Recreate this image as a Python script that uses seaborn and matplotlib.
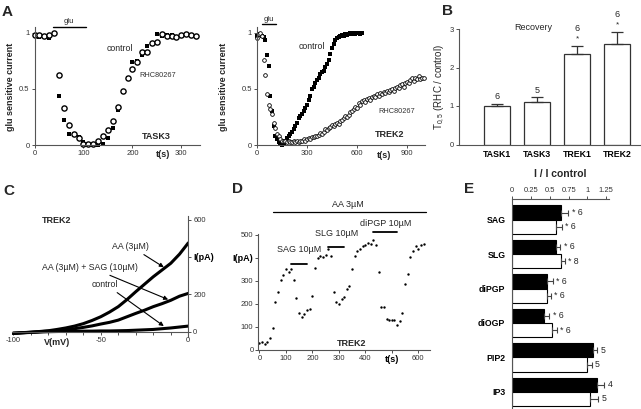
"""
Multi-panel figure: glu recovery (A), T0.5 ratios (B), TREK2 I-V (C),
TREK2 time course with lipids (D) and lipid inhibition ratios (E).
"""

import matplotlib
matplotlib.use("Agg")
import matplotlib.pyplot as plt
import numpy as np
import pandas as pd
import seaborn as sns

# ---------------- data ----------------
# A, TASK3: glu sensitive current, sampled every 10 s
task3_t_ctrl = list(range(0, 290, 10))
task3_ctrl = [0.98, 0.96, 0.97, 0.95, 0.99, 0.44, 0.22, 0.10, 0.10, 0.07,
              0.03, 0.01, 0.00, 0.00, 0.01, 0.06, 0.15, 0.31, 0.47, 0.60,
              0.74, 0.75, 0.80, 0.88, 0.90, 0.99, 0.97, 0.98, 0.98]
task3_t_rhc = list(range(0, 340, 10))
task3_rhc = [0.98, 0.98, 0.97, 0.98, 1.00, 0.62, 0.33, 0.18, 0.10, 0.06,
             0.01, 0.01, 0.01, 0.04, 0.08, 0.13, 0.21, 0.34, 0.48, 0.60,
             0.68, 0.74, 0.83, 0.83, 0.91, 0.92, 0.99, 0.97, 0.97, 0.96,
             0.98, 0.99, 0.98, 0.97]

# A, TREK2
trek2_t_ctrl = list(range(0, 640, 10))
trek2_ctrl = [0.97, 0.99, 0.98, 0.97, 0.96, 0.93, 0.80, 0.70, 0.44, 0.30,
              0.17, 0.08, 0.05, 0.03, 0.01, 0.00, 0.02, 0.04, 0.06, 0.08,
              0.10, 0.12, 0.14, 0.17, 0.20, 0.24, 0.26, 0.28, 0.30, 0.33,
              0.36, 0.40, 0.44, 0.50, 0.52, 0.55, 0.58, 0.60, 0.63, 0.65,
              0.66, 0.69, 0.72, 0.76, 0.81, 0.86, 0.90, 0.93, 0.95, 0.96,
              0.97, 0.98, 0.97, 0.99, 0.98, 0.99, 1.00, 0.99, 1.00, 0.99,
              1.00, 1.00, 0.99, 1.00]
trek2_t_rhc = list(range(0, 1010, 10))
trek2_rhc = [0.95, 0.99, 1.00, 0.97, 0.76, 0.62, 0.45, 0.36, 0.32, 0.28,
             0.20, 0.15, 0.10, 0.08, 0.05, 0.04, 0.04, 0.04, 0.03, 0.04,
             0.03, 0.03, 0.04, 0.03, 0.04, 0.03, 0.04, 0.04, 0.05, 0.04,
             0.05, 0.06, 0.05, 0.07, 0.07, 0.08, 0.08, 0.09, 0.11, 0.10,
             0.12, 0.14, 0.13, 0.15, 0.16, 0.18, 0.17, 0.19, 0.20, 0.19,
             0.21, 0.22, 0.24, 0.26, 0.25, 0.27, 0.29, 0.30, 0.32, 0.34,
             0.33, 0.37, 0.36, 0.39, 0.40, 0.38, 0.41, 0.42, 0.40, 0.43,
             0.44, 0.43, 0.45, 0.44, 0.46, 0.45, 0.47, 0.46, 0.48, 0.47,
             0.49, 0.50, 0.48, 0.51, 0.52, 0.51, 0.53, 0.54, 0.52, 0.55,
             0.56, 0.55, 0.58, 0.60, 0.57, 0.60, 0.59, 0.61, 0.59, 0.60,
             0.60]

# B: T0,5 (RHC / control)
recovery_genes = ["TASK1", "TASK3", "TREK1", "TREK2"]
recovery_t05 = [1.00, 1.10, 2.35, 2.60]
recovery_sem = [0.06, 0.13, 0.21, 0.33]
recovery_n = ["6", "5", "6", "6"]
recovery_star = ["", "", "*", "*"]

# C: I-V of TREK2, 5 mV steps
iv_v = [-100, -95, -90, -85, -80, -75, -70, -65, -60, -55, -50,
        -45, -40, -35, -30, -25, -20, -15, -10, -5, 0]
iv_aa = [-8, -5, -3, 1, 5, 12, 20, 30, 43, 60, 80,
         105, 134, 172, 214, 254, 294, 330, 366, 415, 475]
iv_aa_sag = [-10, -6, -3, 0, 3, 6, 10, 16, 23, 31, 41,
             50, 62, 80, 98, 115, 134, 150, 168, 190, 205]
iv_ctrl = [-8, -6, -4, -2, 0, 1, 2, 2, 3, 3, 4,
           4, 5, 6, 8, 10, 12, 16, 20, 25, 30]

# D: TREK2 current over time, sampled every 10 s
d_t = list(range(0, 630, 10))
d_current = [30, 35, 25, 35, 50, 95, 210, 250, 305, 325,
             350, 340, 350, 305, 225, 160, 145, 155, 175, 180,
             235, 355, 400, 410, 405, 415, 440, 410, 250, 210,
             200, 220, 230, 265, 280, 350, 410, 430, 440, 450,
             455, 465, 460, 480, 455, 340, 185, 185, 135, 130,
             130, 130, 110, 125, 160, 285, 330, 405, 430, 450,
             440, 455, 460]
d_drugs = ["SAG 10µM", "SLG 10µM", "diPGP 10µM"]
d_drug_start = [120, 260, 430]
d_drug_end = [180, 320, 520]

# E: I / I control
lipids = ["SAG", "SLG", "diPGP", "diOGP", "PIP2", "IP3"]
ratio_black = [0.65, 0.58, 0.465, 0.425, 1.075, 1.13]
sem_black = [0.095, 0.055, 0.07, 0.065, 0.055, 0.09]
n_black = ["* 6", "* 6", "* 6", "* 6", "5", "4"]
ratio_white = [0.58, 0.645, 0.455, 0.525, 1.0, 1.03]
sem_white = [0.075, 0.05, 0.055, 0.065, 0.055, 0.11]
n_white = ["* 6", "* 8", "* 6", "* 6", "5", "5"]

# ---------------- style ----------------
sns.set_style("ticks")
plt.rcParams["font.family"] = ["Liberation Sans", "DejaVu Sans"]
plt.rcParams["mathtext.fontset"] = "custom"
plt.rcParams["mathtext.rm"] = "Liberation Sans"
plt.rcParams["mathtext.it"] = "Liberation Sans:italic"

AXIS_COLOR = "#555555"
TICK_SIZE = 5.5
W, H = 641, 409
fig = plt.figure(figsize=(W / 100, H / 100), dpi=100)


def px_axes(left, top, right, bottom):
    return fig.add_axes([left / W, 1 - bottom / H, (right - left) / W, (bottom - top) / H])


def style(ax, spines=("left", "bottom")):
    for side in ["left", "right", "top", "bottom"]:
        ax.spines[side].set_visible(side in spines)
        ax.spines[side].set_color(AXIS_COLOR)
        ax.spines[side].set_linewidth(0.8)
    ax.tick_params(length=2, width=0.6, labelsize=TICK_SIZE, colors="#333333", pad=1.5)
    ax.set_xlabel("")
    ax.set_ylabel("")


def panel_letter(x, y, letter):
    fig.text(x / W, 1 - y / H, letter, fontsize=11, fontweight="bold", ha="left", va="top")


# ---------------- A: TASK3 ----------------
ax = px_axes(34.5, 27, 200, 145)
sns.scatterplot(x=task3_t_ctrl, y=task3_ctrl, marker="s", s=10, color="black",
                linewidth=0, clip_on=False, ax=ax)
sns.scatterplot(x=task3_t_rhc, y=task3_rhc, marker="o", s=14, color="white",
                edgecolor="black", linewidth=1.0, clip_on=False, ax=ax)
ax.set_xlim(0, 338)
ax.set_ylim(0, 1.05)
ax.set_xticks([0, 100, 200, 300])
ax.set_yticks([0, 0.5, 1])
ax.set_yticklabels(["0", "0.5", "1"])
style(ax)
ax.plot([38, 105], [1.05, 1.05], color="black", lw=1, clip_on=False)
ax.text(70, 1.10, "glu", fontsize=5.5, ha="center", va="center")
ax.text(148, 0.86, "control", fontsize=6.3, ha="left", va="center")
ax.text(215, 0.62, "RHC80267", fontsize=5.3, color="#333333", ha="left", va="center")
ax.text(278, 0.08, "TASK3", fontsize=6.5, fontweight="bold", ha="right", va="center")
ax.text(262, -0.085, "t(s)", fontsize=6.5, fontweight="bold", ha="center", va="center")
ax.set_ylabel("glu sensitive current", fontsize=6.5, fontweight="bold")
ax.yaxis.set_label_coords(-0.118, 0.49)

# ---------------- A: TREK2 ----------------
ax = px_axes(257, 27, 425.3, 145)
sns.scatterplot(x=trek2_t_ctrl, y=trek2_ctrl, marker="s", s=5, color="black",
                linewidth=0, clip_on=False, ax=ax)
sns.scatterplot(x=trek2_t_rhc, y=trek2_rhc, marker="o", s=7, color="white",
                edgecolor="black", linewidth=0.6, clip_on=False, ax=ax)
ax.set_xlim(0, 1010)
ax.set_ylim(0, 1.05)
ax.set_xticks([0, 300, 600, 900])
ax.set_yticks([0, 0.5, 1])
ax.set_yticklabels(["0", "0.5", "1"])
style(ax)
ax.plot([30, 115], [1.075, 1.075], color="black", lw=1, clip_on=False)
ax.text(72, 1.12, "glu", fontsize=5.5, ha="center", va="center")
ax.text(328, 0.874, "control", fontsize=6.3, ha="center", va="center")
ax.text(727, 0.296, "RHC80267", fontsize=5.3, color="#333333", ha="left", va="center")
ax.text(795, 0.09, "TREK2", fontsize=6.5, fontweight="bold", ha="center", va="center")
ax.text(762, -0.09, "t(s)", fontsize=6.5, fontweight="bold", ha="center", va="center")
ax.set_ylabel("glu sensitive current", fontsize=6.5, fontweight="bold")
ax.yaxis.set_label_coords(-0.172, 0.49)

# ---------------- B: T0,5 ratio ----------------
ax = px_axes(459, 29, 641, 144.5)
sns.barplot(x=recovery_genes, y=recovery_t05, color="white", saturation=1,
            edgecolor="#333333", linewidth=0.9, width=0.65, errorbar=None, ax=ax)
ax.errorbar(range(len(recovery_genes)), recovery_t05,
            yerr=[[0] * len(recovery_sem), recovery_sem], fmt="none",
            ecolor="#333333", elinewidth=0.9, capsize=4, capthick=0.9, clip_on=False)
for i, (val, err) in enumerate(zip(recovery_t05, recovery_sem)):
    top = val + err
    if recovery_star[i]:
        ax.annotate(recovery_star[i], (i, top), xytext=(0, 5), textcoords="offset points",
                    ha="center", va="center", fontsize=6)
        ax.annotate(recovery_n[i], (i, top), xytext=(0, 12.5), textcoords="offset points",
                    ha="center", va="center", fontsize=6.5)
    else:
        ax.annotate(recovery_n[i], (i, top), xytext=(0, 5), textcoords="offset points",
                    ha="center", va="center", fontsize=6.5)
ax.set_xlim(-0.95, 3.6)
ax.set_ylim(0, 3)
ax.set_yticks([0, 1, 2, 3])
style(ax)
ax.tick_params(axis="x", length=0, labelsize=6.3, pad=4)
for lab in ax.get_xticklabels():
    lab.set_fontweight("bold")
    lab.set_color("black")
ax.text(0.9, 3.03, "Recovery", fontsize=6.5, ha="center", va="center")
ax.set_ylabel(r"T$_{0,5}$ (RHC / control)", fontsize=7)
ax.yaxis.set_label_coords(-0.064, 0.5)

# ---------------- C: I-V ----------------
ax = px_axes(11.5, 215.8, 188.3, 337.3)
sns.lineplot(x=iv_v, y=iv_aa, color="black", lw=2.2, ax=ax)
sns.lineplot(x=iv_v, y=iv_aa_sag, color="black", lw=2.2, ax=ax)
sns.lineplot(x=iv_v, y=iv_ctrl, color="black", lw=2.2, ax=ax)
ax.set_xlim(-101, 0)
ax.set_ylim(-30, 620)
style(ax, spines=("right", "bottom"))
ax.spines["bottom"].set_position(("data", 0))
ax.spines["right"].set_position(("data", 0))
ax.yaxis.tick_right()
ax.set_yticks([0, 200, 400, 600])
ax.set_yticklabels(["0", "200", "I(pA)", "600"])
ylabels = ax.get_yticklabels()
ylabels[2].set_fontweight("bold")
ylabels[2].set_fontsize(6.5)
ylabels[2].set_color("black")
ax.set_xticks(range(-100, 1, 10))
ax.set_xticklabels(["-100", "", "", "", "", "-50", "", "", "", "", "0"])
ax.text(-75, -60, "V(mV)", fontsize=6.5, fontweight="bold", ha="center", va="center")
ax.text(-75, 597, "TREK2", fontsize=6.5, fontweight="bold", ha="center", va="center")
arrow = dict(arrowstyle="-|>", color="black", lw=0.8, mutation_scale=6, shrinkA=1, shrinkB=0)
ax.annotate("AA (3µM)", xy=(-14, 345), xytext=(-43.6, 458), fontsize=6.3,
            ha="left", va="center", arrowprops=arrow)
ax.annotate("AA (3µM) + SAG (10µM)", xy=(-11.5, 172), xytext=(-83.6, 346), fontsize=6.3,
            ha="left", va="center", arrowprops=arrow)
ax.annotate("control", xy=(-14, 30), xytext=(-55, 255), fontsize=6.3,
            ha="left", va="center", arrowprops=arrow)

# ---------------- D: time course ----------------
ax = px_axes(258.3, 233.8, 430, 350)
sns.scatterplot(x=d_t, y=d_current, marker="o", s=3, color="black", linewidth=0,
                clip_on=False, ax=ax)
ax.set_xlim(-4, 644)
ax.set_ylim(0, 505)
style(ax)
ax.set_xticks([0, 100, 200, 300, 400, 500, 600])
ax.set_xticklabels(["0", "100", "200", "300", "400", "t(s)", "600"])
ax.set_yticks([0, 100, 200, 300, 400, 500])
ax.set_yticklabels(["0", "100", "200", "300", "I(pA)", "500"])
for lab in [ax.get_xticklabels()[5], ax.get_yticklabels()[4]]:
    lab.set_fontweight("bold")
    lab.set_fontsize(6.5)
    lab.set_color("black")
ax.plot([50, 629], [601, 601], color="black", lw=0.9, clip_on=False)
ax.text(335, 632, "AA 3µM", fontsize=6.5, ha="center", va="center")
label_y = [435, 508, 551]
for name, t0, t1, ly in zip(d_drugs, d_drug_start, d_drug_end, label_y):
    bar_y = ly - 60 if name != "diPGP 10µM" else ly - 39
    ax.plot([t0, t1], [bar_y, bar_y], color="black", lw=1.3, clip_on=False)
    ax.text((t0 + t1) / 2, ly, name, fontsize=6.5, ha="center", va="center")
ax.text(350, 30, "TREK2", fontsize=6.5, fontweight="bold", ha="center", va="center")

# ---------------- E: I / I control ----------------
e_df = pd.DataFrame({
    "lipid": lipids * 2,
    "ratio": ratio_black + ratio_white,
    "cond": ["black"] * len(lipids) + ["white"] * len(lipids),
})
ax = px_axes(512.3, 199, 609.3, 409)
sns.barplot(data=e_df, x="ratio", y="lipid", hue="cond", orient="h",
            palette={"black": "black", "white": "white"}, saturation=1,
            edgecolor="black", linewidth=0.8, width=0.83, errorbar=None,
            legend=False, ax=ax)
pos = np.arange(len(lipids))
for offs, vals, errs, labels in [(-0.2075, ratio_black, sem_black, n_black),
                                 (0.2075, ratio_white, sem_white, n_white)]:
    ax.errorbar(vals, pos + offs, xerr=[[0] * len(vals), errs], fmt="none",
                ecolor="#444444", elinewidth=0.8, capsize=2.5, capthick=0.8, clip_on=False)
    for p, v, e, lab in zip(pos + offs, vals, errs, labels):
        ax.annotate(lab, (v + e, p), xytext=(2.5, 0), textcoords="offset points",
                    ha="left", va="center", fontsize=6.3)
ax.set_xlim(0, 1.29)
ax.set_ylim(5.5, -0.6)
style(ax, spines=("left", "top"))
ax.xaxis.tick_top()
ax.set_xticks([0, 0.25, 0.5, 0.75, 1, 1.25])
ax.set_xticklabels(["0", "0.25", "0.5", "0.75", "1", "1.25"])
ax.tick_params(axis="y", length=0, labelsize=6.3, pad=5)
for lab in ax.get_yticklabels():
    lab.set_fontweight("bold")
    lab.set_color("black")
fig.text(560 / W, 1 - 174 / H, "I / I control", fontsize=7.5, fontweight="bold",
         ha="center", va="center")

# ---------------- panel letters ----------------
panel_letter(2, 5, "A")
panel_letter(442, 4, "B")
panel_letter(3, 184, "C")
panel_letter(232, 182, "D")
panel_letter(464, 182, "E")

fig.savefig("out.png", dpi=100)
